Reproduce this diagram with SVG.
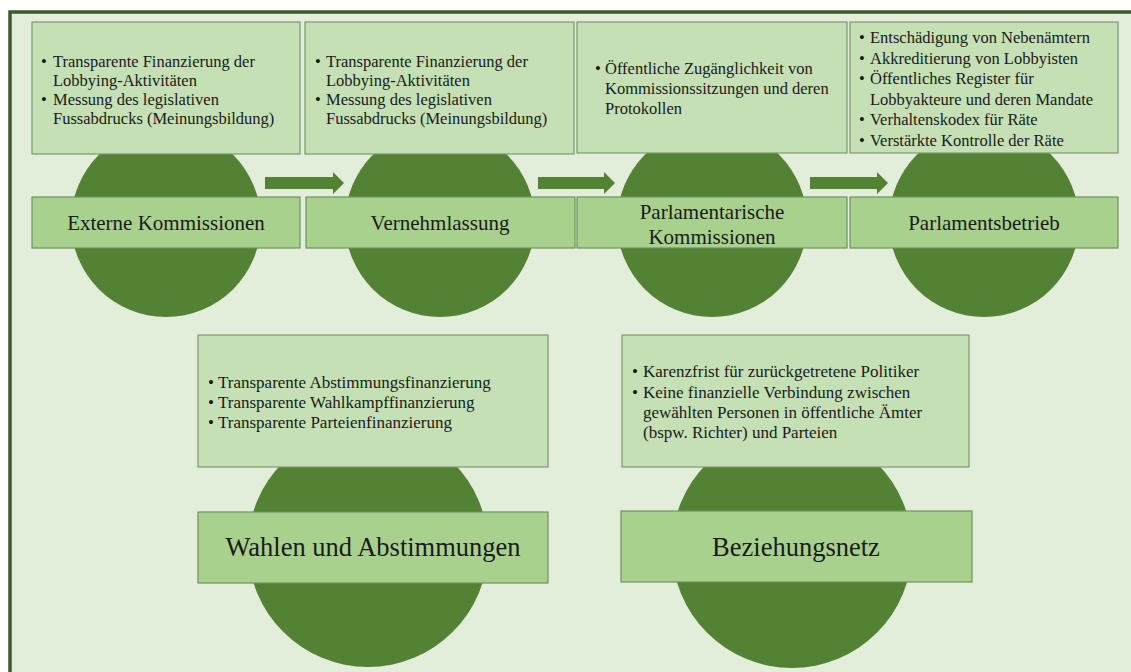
<svg xmlns="http://www.w3.org/2000/svg" width="1131" height="672" viewBox="0 0 1131 672">
<defs>
<style>
.bg{fill:#e2eed9}
.frame{fill:none;stroke:#3d5a2c;stroke-width:3.5}
.circ{fill:#548235}
.tbox{fill:#c5e0b4;stroke:#7d9870;stroke-width:1.2}
.lbox{fill:#a9d18e;stroke:#6f9260;stroke-width:1.2}
.arrow{fill:#548235}
text{font-family:"Liberation Serif","Times New Roman",serif;fill:#1a1a1a}
.t{font-size:16.5px}
.b{font-size:17px}
.l{font-size:21px;text-anchor:middle}
.L{font-size:26.5px;text-anchor:middle}
</style>
</defs>
<rect x="0" y="0" width="1131" height="672" fill="#ffffff"/>
<rect class="bg" x="10" y="12" width="1121" height="660"/>
<path class="frame" d="M10,672 V12 H1131"/>

<g id="connectors">
<polygon class="arrow" points="265,177 333,177 333,172 344,183 333,194 333,189 265,189"/>
<polygon class="arrow" points="538,177 604,177 604,172 615,183 604,194 604,189 538,189"/>
<polygon class="arrow" points="810,177 877,177 877,172 888,183 877,194 877,189 810,189"/>
</g>

<g id="node-externe">
<circle class="circ" cx="166" cy="222" r="95"/>
<rect class="tbox" x="32" y="22" width="268" height="132"/>
<text class="t" x="41" y="67">•</text>
<text class="t" x="53" y="67">Transparente Finanzierung der</text>
<text class="t" x="53" y="86">Lobbying-Aktivitäten</text>
<text class="t" x="41" y="105">•</text>
<text class="t" x="53" y="105">Messung des legislativen</text>
<text class="t" x="53" y="124">Fussabdrucks (Meinungsbildung)</text>
<rect class="lbox" x="32" y="197" width="268" height="51"/>
<text class="l" x="166" y="230">Externe Kommissionen</text>
</g>

<g id="node-vernehmlassung">
<circle class="circ" cx="440" cy="222" r="95"/>
<rect class="tbox" x="305" y="22" width="269" height="132"/>
<text class="t" x="315" y="67">•</text>
<text class="t" x="326" y="67">Transparente Finanzierung der</text>
<text class="t" x="326" y="86">Lobbying-Aktivitäten</text>
<text class="t" x="315" y="105">•</text>
<text class="t" x="326" y="105">Messung des legislativen</text>
<text class="t" x="326" y="124">Fussabdrucks (Meinungsbildung)</text>
<rect class="lbox" x="306" y="197" width="269" height="51"/>
<text class="l" x="440" y="230">Vernehmlassung</text>
</g>

<g id="node-parlamentarische">
<circle class="circ" cx="712" cy="222" r="95"/>
<rect class="tbox" x="577" y="22" width="270" height="131"/>
<text class="t" x="595" y="74">•</text>
<text class="t" x="605" y="74">Öffentliche Zugänglichkeit von</text>
<text class="t" x="605" y="94">Kommissionssitzungen und deren</text>
<text class="t" x="605" y="114">Protokollen</text>
<rect class="lbox" x="577" y="197" width="270" height="51"/>
<text class="l" x="712" y="219">Parlamentarische</text>
<text class="l" x="712" y="244">Kommissionen</text>
</g>

<g id="node-parlamentsbetrieb">
<circle class="circ" cx="984" cy="222" r="95"/>
<rect class="tbox" x="850" y="22" width="268" height="131"/>
<text class="t" x="859" y="43">•</text>
<text class="t" x="870" y="43">Entschädigung von Nebenämtern</text>
<text class="t" x="859" y="64">•</text>
<text class="t" x="870" y="64">Akkreditierung von Lobbyisten</text>
<text class="t" x="859" y="84">•</text>
<text class="t" x="870" y="84">Öffentliches Register für</text>
<text class="t" x="870" y="105">Lobbyakteure und deren Mandate</text>
<text class="t" x="859" y="125">•</text>
<text class="t" x="870" y="125">Verhaltenskodex für Räte</text>
<text class="t" x="859" y="146">•</text>
<text class="t" x="870" y="146">Verstärkte Kontrolle der Räte</text>
<rect class="lbox" x="850" y="197" width="268" height="51"/>
<text class="l" x="984" y="230">Parlamentsbetrieb</text>
</g>

<g id="node-wahlen">
<circle class="circ" cx="368" cy="547" r="120"/>
<rect class="tbox" x="198" y="335" width="350" height="132"/>
<text class="b" x="208" y="388">•</text>
<text class="b" x="218" y="388">Transparente Abstimmungsfinanzierung</text>
<text class="b" x="208" y="408">•</text>
<text class="b" x="218" y="408">Transparente Wahlkampffinanzierung</text>
<text class="b" x="208" y="428">•</text>
<text class="b" x="218" y="428">Transparente Parteienfinanzierung</text>
<rect class="lbox" x="198" y="512" width="350" height="71"/>
<text class="L" x="373" y="556">Wahlen und Abstimmungen</text>
</g>

<g id="node-beziehungsnetz">
<circle class="circ" cx="792" cy="548" r="120"/>
<rect class="tbox" x="622" y="335" width="347" height="132"/>
<text class="b" x="632" y="377">•</text>
<text class="b" x="643" y="377">Karenzfrist für zurückgetretene Politiker</text>
<text class="b" x="632" y="398">•</text>
<text class="b" x="643" y="398">Keine finanzielle Verbindung zwischen</text>
<text class="b" x="643" y="418">gewählten Personen in öffentliche Ämter</text>
<text class="b" x="643" y="438">(bspw. Richter) und Parteien</text>
<rect class="lbox" x="621" y="511" width="351" height="71"/>
<text class="L" x="796" y="556">Beziehungsnetz</text>
</g>
</svg>
